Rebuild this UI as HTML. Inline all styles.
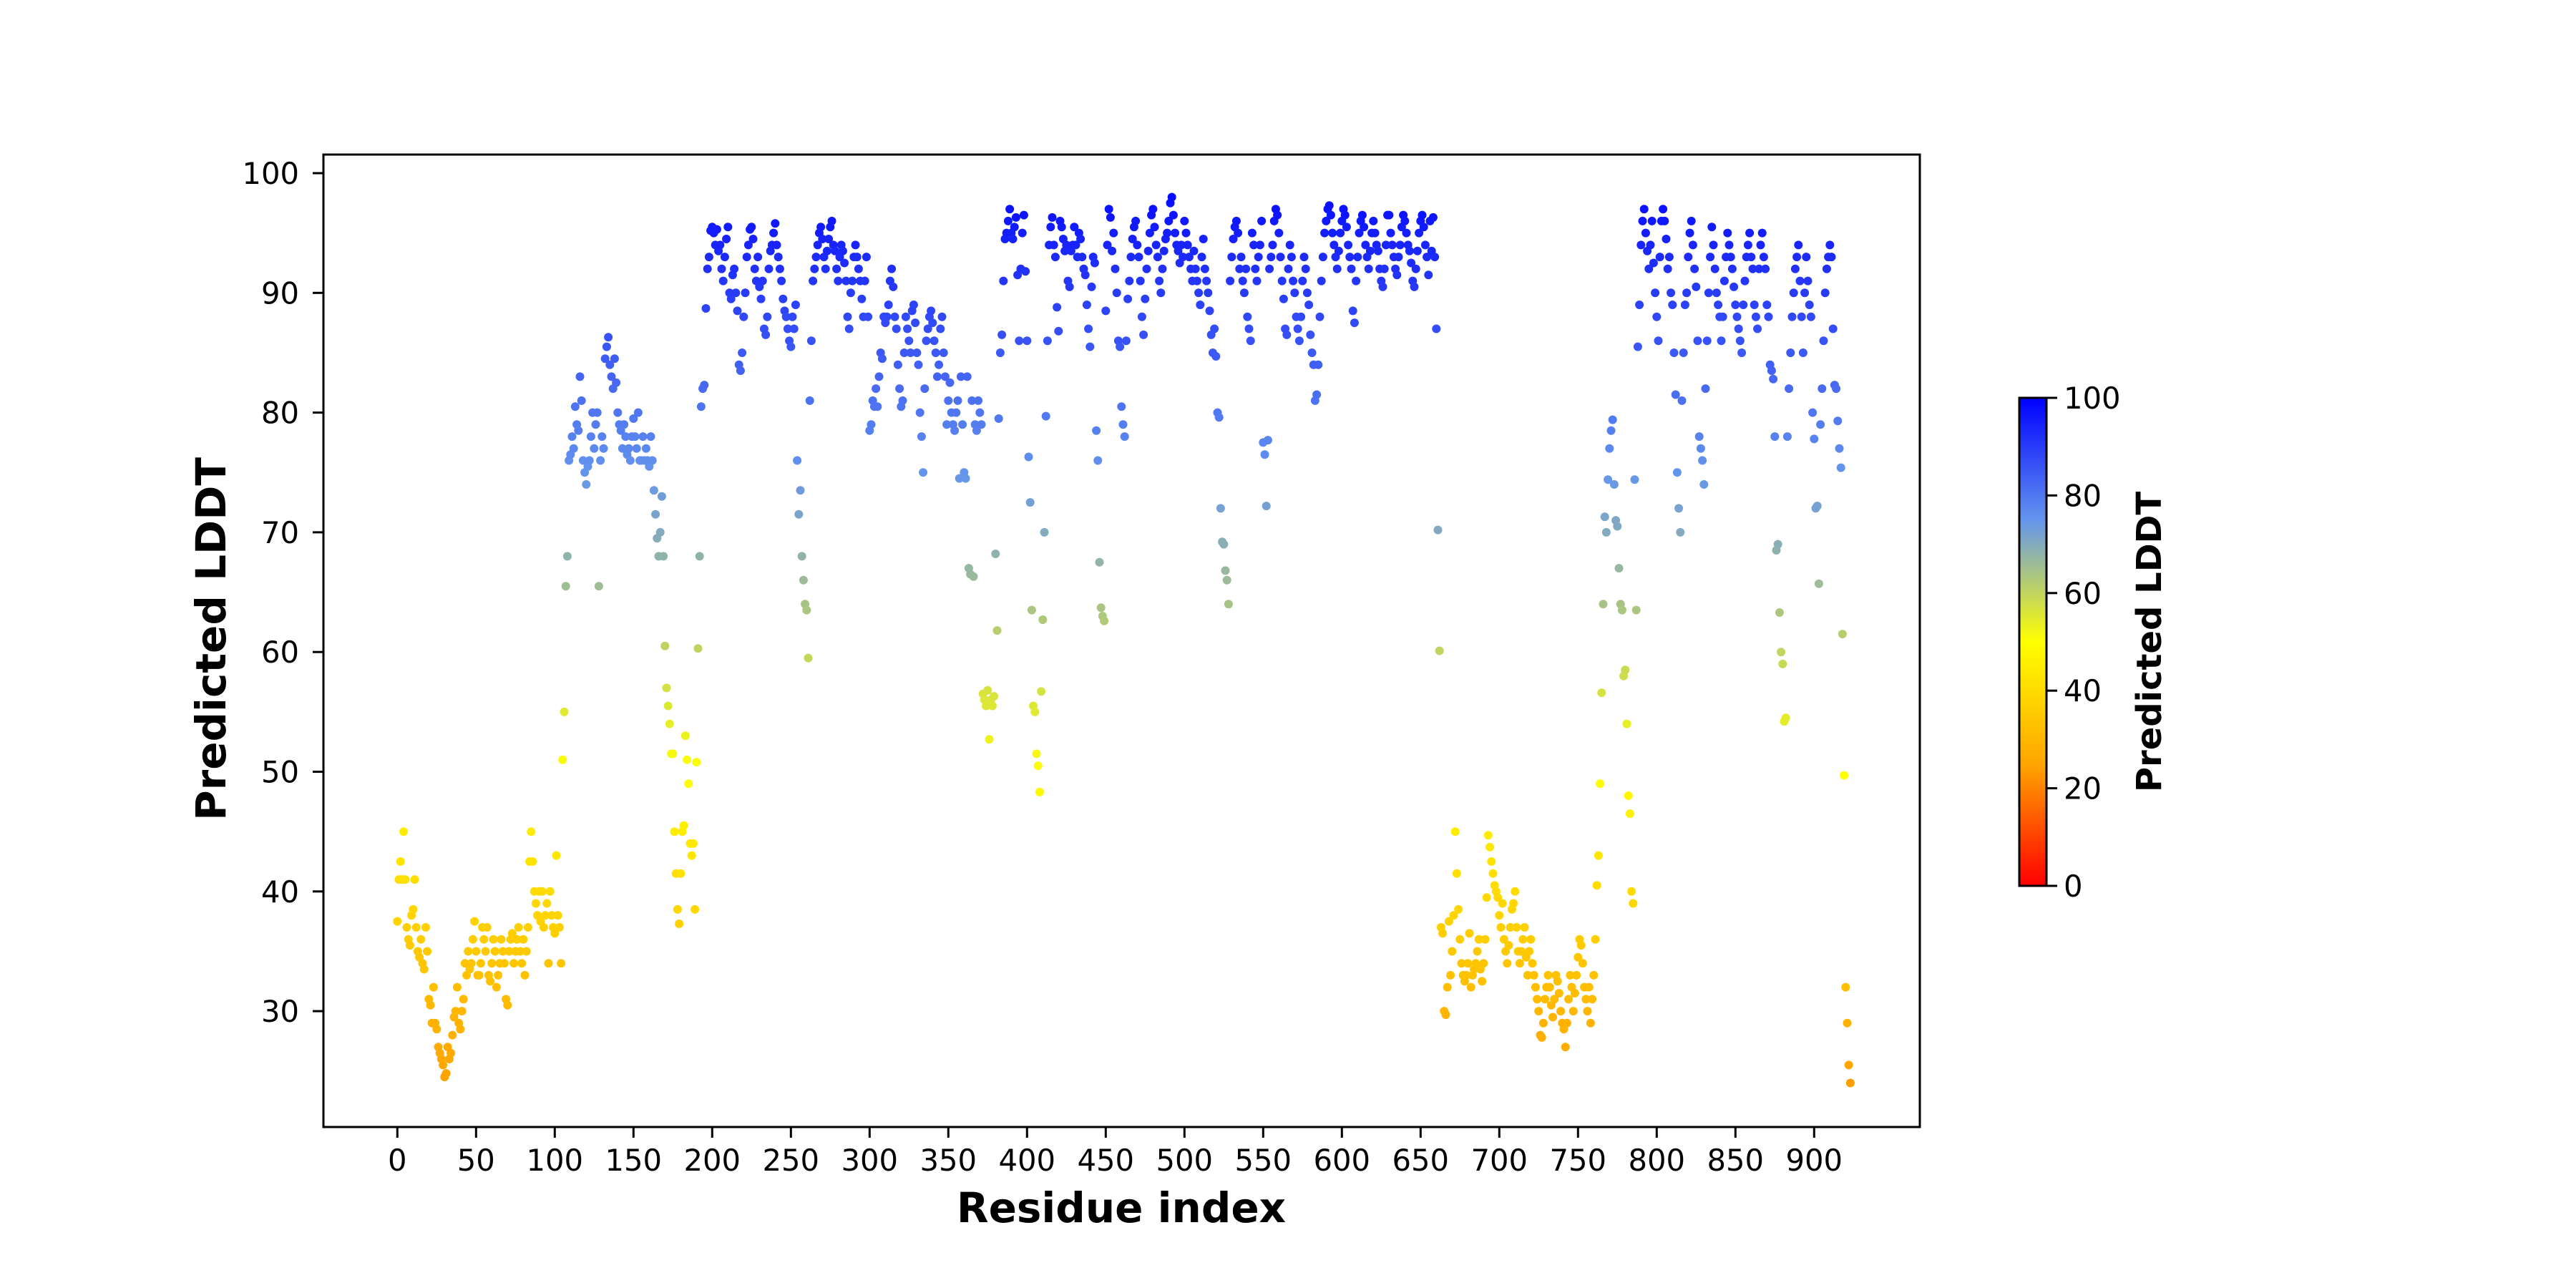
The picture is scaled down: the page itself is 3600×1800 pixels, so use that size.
<!DOCTYPE html>
<html>
<head>
<meta charset="utf-8">
<style>
  html, body { margin: 0; padding: 0; background: #ffffff; }
  svg { display: block; }
  text { font-family: "DejaVu Sans", "Liberation Sans", sans-serif; fill: #000; }
</style>
</head>
<body>
<svg id="chart" width="3600" height="1800" viewBox="0 0 3600 1800" xmlns="http://www.w3.org/2000/svg">
  <defs>
    <linearGradient id="cbgrad" x1="0" y1="1" x2="0" y2="0">
      <stop offset="0" stop-color="#ff0000"/>
      <stop offset="0.25" stop-color="#ffa500"/>
      <stop offset="0.5" stop-color="#ffff00"/>
      <stop offset="0.75" stop-color="#6495ed"/>
      <stop offset="1" stop-color="#0000ff"/>
    </linearGradient>
  </defs>
  <rect x="0" y="0" width="3600" height="1800" fill="#ffffff"/>
  <g id="points"></g>
  <rect x="452" y="216" width="2231" height="1359" fill="none" stroke="#000" stroke-width="3"/>
  <g id="xticks"></g>
  <g id="yticks"></g>
  <text x="1567" y="1708" font-size="58" font-weight="bold" text-anchor="middle">Residue index</text>
  <text x="0" y="0" font-size="58" font-weight="bold" text-anchor="middle" transform="translate(315,893) rotate(-90)">Predicted LDDT</text>
  <rect x="2822" y="556" width="38" height="682" fill="url(#cbgrad)" stroke="#000" stroke-width="3"/>
  <g id="cbticks"></g>
  <text x="0" y="0" font-size="48" font-weight="bold" text-anchor="middle" transform="translate(3020,897) rotate(-90)">Predicted LDDT</text>
</svg>
<script>
const xTicks = [0,50,100,150,200,250,300,350,400,450,500,550,600,650,700,750,800,850,900];
const yTicks = [30,40,50,60,70,80,90,100];
const cbTicks = [0,20,40,60,80,100];
const lddt = [
37.5,41,42.5,41,45,41,37,36,35.5,38,
38.5,41,37,35,34.5,36,34,33.5,37,35,
31,30.5,29,32,29,28.5,27,26.5,26,25.5,
24.5,24.8,27,26,26.5,28,29.5,30,32,29,
28.5,30,31,34,33,35,33.5,34,36,37.5,
35,33,33,34,37,36,35,37,33,32.5,
34,36,35,32,33,34,36,35,34,31,
30.5,35,36,36.5,34,35,36,37,35,34,
36,33,35,37,42.5,45,42.5,40,39,38,
40,37.5,40,37,38,39,34,40,38,37,
36.5,43,38,37,34,51,55,65.5,68,76,
76.5,78,77,80.5,79,78.5,83,81,76,75,
74,75.5,76,78,80,77,79,80,65.5,76,
78,77,84.5,85.5,86.3,84,83,82,84.5,82.5,
80,79,78.5,77,79,78,76.5,77,76,78,
79.5,78,77,80,76,76,78,76,77,76,
75.5,78,76,73.5,71.5,69.5,68,70,73,68,
60.5,57,55.5,54,51.5,51.5,45,41.5,38.5,37.3,
41.5,45,45.5,53,51,49,44,43,44,38.5,
50.8,60.3,68,80.5,82,82.3,88.7,92,93,95.2,
95.5,95,94,95.3,93.5,94,92,91,93,94.5,
95.5,90,89.5,91.5,92,90,88.5,84,83.5,85,
88,90,93,94,95.3,95.5,94.5,92,91,93,
90.5,89.5,91,87,86.5,88,92,93.5,94,95,
95.8,94,93,92,91,89.5,88.5,88,87,86,
85.5,88,87,89,76,71.5,73.5,68,66,64,
63.5,59.5,81,86,91,92,93,94,95,95.5,
94.5,93,92,93.5,94.5,95.5,96,94,93.5,92,
91,93,94,93.5,92.5,91,88,87,90,91,
93,94,93,92,91,89.5,88,91,93,88,
78.5,79,81,80.5,82,80.5,83,85,84.5,88,
87.5,88,89,91,92,90.5,88,87,84,82,
80.5,81,85,88,87,86,85,88.5,89,87.5,
85,84,80,78,75,82,86,87,88,88.5,
87.5,86,85,83,84,87,88,85,83,79,
81,82.5,80,79,78.5,80,81,74.5,83,79,
75,74.5,83,67,66.5,81,66.3,79,78.5,81,
80,79,56.5,56,55.5,56.8,52.7,56,55.5,56.3,
68.2,61.8,79.5,85,86.5,91,94.5,95,96,97,
95,94.5,95.5,96.3,91.5,86,92,95,96.5,91.8,
86,76.3,72.5,63.5,55.5,55,51.5,50.5,48.3,56.7,
62.7,70,79.7,86,94,95.5,96.3,94,93,88.8,
86.8,96,95.5,94.5,93.5,94,91,90.5,93.5,94,
95.5,94,93,95,94.5,93,92,91.5,89,87,
85.5,90.5,93,92.5,78.5,76,67.5,63.7,63,62.6,
88.5,94,97,96.3,93.5,95,92,90,86,85.5,
80.5,79,78,86,89.5,91,93,94.5,95.5,96,
94,93,91,88,86.5,89.5,92,93.5,95,96.5,
97,95.5,94,93,91,90,92,93.5,94.5,95,
96,97.5,98,96.5,95,94,93.5,92.5,94,93,
96,95,94,93,92,91,93.5,92,91,90,
89,93,94.5,92,91,90,88.5,86.5,85,87,
84.7,80,79.6,72,69.2,69,66.8,66,64,91,
93,94.5,95.5,96,95,92,93,91,90,92,
88,87,86,95,94,92,91,93,94,96,
77.5,76.5,72.2,77.7,92,93,94,96,97,96.5,
95,93,91,89.5,87,86.5,92,94,93,91,
90,88,87,86,88,91,93,92,90,89,
86.5,85,84,81,81.5,84,88,91,93,95,
96,97,97.3,96.5,95,94,93,92,93.5,95,
96,97,96.5,95.5,94,93,92,88.5,87.5,91,
93,95,96,96.5,95.5,94,93,92,93.5,95,
96,95,94,93.5,92,91,90.5,92,94,96.5,
96.5,95,94,93,92,91.5,93,94,95.5,96.5,
96,95,94,93.5,92.5,91,90.5,92,93.5,95,
96,96.5,95.5,94,93,91.5,96,93.5,96.3,93,
87,70.2,60.1,37,36.5,30,29.7,32,37.5,33,
35,38,45,41.5,38.5,36,34,33,32.5,33,
34,36.5,32,33,33.5,34,35,36,33.5,32.5,
34,36,39.5,44.7,43.7,42.5,41.5,40.5,40,39.5,
38,37,39,36,35,34,35.5,37,38.5,39,
40,37,35,34,35,36,37,34.5,33,35,
36,34,33,32,31,30,28,27.8,29,31,
32,33,32,30.5,29.5,31,33,32.5,31.5,30,
29,28.5,27,29,31,33,32,30,31.5,33,
34.5,36,35.5,34,32,31,30,32,29,31,
33,36,40.5,43,49,56.6,64,71.3,70,74.4,
77,78.5,79.4,74,71,70.5,67,64,63.5,58,
58.5,54,48,46.5,40,39,74.4,63.5,85.5,89,
94,96,97,95,93.5,92,94,96,92.5,90,
88,86,93,96,97,96,94.5,92,93,90,
89,85,81.5,75,72,70,81,85,89,90,
93,95,96,94,92,90.5,86,78,77,76,
74,82,86,90,93,95.5,94,92,90,89,
88,86,88,91,93,95,94,93,92,90.5,
89,88,87,86,85,89,91,93,94,95,
93,92,89,88,87,92,94,95,93,92,
89,88,84,83.5,82.8,78,68.5,69,63.3,60,
59,54.2,54.5,78,82,85,88,90,92,93,
94,91,88,85,90,93,
91,89,88,80,77.8,72,72.2,65.7,79,82,
86,90,92,93,94,93,87,82.3,82,79.3,
77,75.4,61.5,49.7,32,29,25.5,24
];

const SVGNS = "http://www.w3.org/2000/svg";
function xPos(i) { return 555.3 + 2.2 * i; }
function yPos(v) { return 242 + (100 - v) * 16.73; }
function cbPos(v) { return 1238 - v * 6.82; }

const stops = [[0,[255,0,0]],[25,[255,165,0]],[50,[255,255,0]],[75,[100,149,237]],[100,[0,0,255]]];
function colorFor(v) {
  v = Math.max(0, Math.min(100, v));
  for (let k = 0; k < stops.length - 1; k++) {
    const a = stops[k], b = stops[k + 1];
    if (v <= b[0]) {
      const t = (v - a[0]) / (b[0] - a[0]);
      const c = a[1].map((ch, j) => Math.round(ch + (b[1][j] - ch) * t));
      return "rgb(" + c.join(",") + ")";
    }
  }
  return "rgb(0,0,255)";
}

const gPts = document.getElementById("points");
lddt.forEach(function (v, i) {
  const c = document.createElementNS(SVGNS, "circle");
  c.setAttribute("cx", xPos(i).toFixed(1));
  c.setAttribute("cy", yPos(v).toFixed(1));
  c.setAttribute("r", "6");
  c.setAttribute("fill", colorFor(v));
  
  
  gPts.appendChild(c);
});

const gx = document.getElementById("xticks");
xTicks.forEach(function (t) {
  const x = xPos(t);
  const l = document.createElementNS(SVGNS, "line");
  l.setAttribute("x1", x); l.setAttribute("x2", x);
  l.setAttribute("y1", 1575); l.setAttribute("y2", 1590);
  l.setAttribute("stroke", "#000"); l.setAttribute("stroke-width", "3");
  
  
  gx.appendChild(l);
  const tx = document.createElementNS(SVGNS, "text");
  tx.setAttribute("x", x); tx.setAttribute("y", 1636);
  tx.setAttribute("font-size", "41.7"); tx.setAttribute("text-anchor", "middle");
  tx.textContent = String(t);
  
  
  gx.appendChild(tx);
});

const gy = document.getElementById("yticks");
yTicks.forEach(function (t) {
  const y = yPos(t);
  const l = document.createElementNS(SVGNS, "line");
  l.setAttribute("x1", 437); l.setAttribute("x2", 452);
  l.setAttribute("y1", y); l.setAttribute("y2", y);
  l.setAttribute("stroke", "#000"); l.setAttribute("stroke-width", "3");
  
  
  gy.appendChild(l);
  const tx = document.createElementNS(SVGNS, "text");
  tx.setAttribute("x", 418); tx.setAttribute("y", y + 15);
  tx.setAttribute("font-size", "41.7"); tx.setAttribute("text-anchor", "end");
  tx.textContent = String(t);
  
  
  gy.appendChild(tx);
});

const gc = document.getElementById("cbticks");
cbTicks.forEach(function (t) {
  const y = cbPos(t);
  const l = document.createElementNS(SVGNS, "line");
  l.setAttribute("x1", 2860); l.setAttribute("x2", 2875);
  l.setAttribute("y1", y); l.setAttribute("y2", y);
  l.setAttribute("stroke", "#000"); l.setAttribute("stroke-width", "3");
  
  
  gc.appendChild(l);
  const tx = document.createElementNS(SVGNS, "text");
  tx.setAttribute("x", 2884); tx.setAttribute("y", y + 15);
  tx.setAttribute("font-size", "41.7"); tx.setAttribute("text-anchor", "start");
  tx.textContent = String(t);
  
  
  gc.appendChild(tx);
});
</script>
</body>
</html>
